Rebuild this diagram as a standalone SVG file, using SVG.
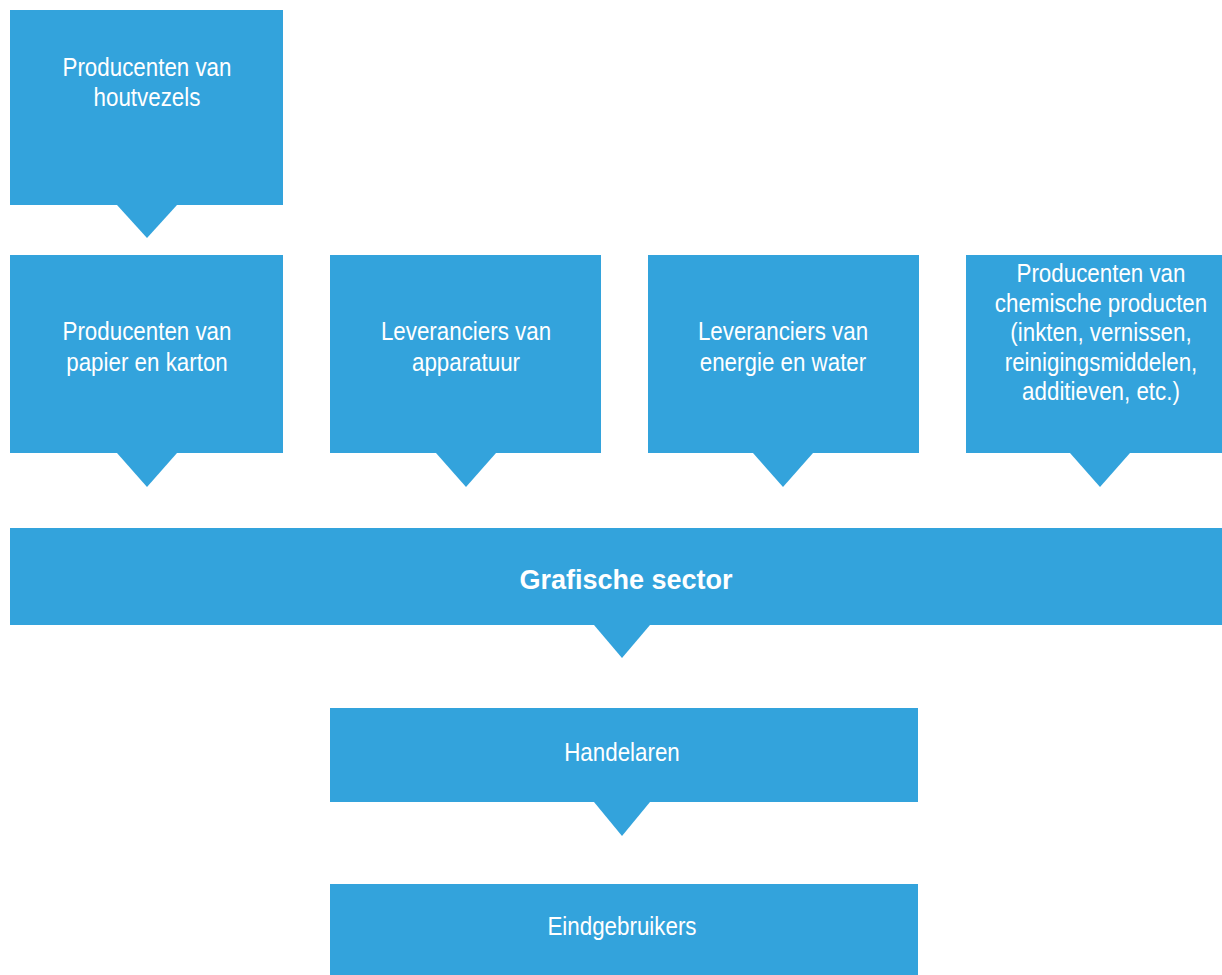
<svg xmlns="http://www.w3.org/2000/svg" width="1222" height="975" viewBox="0 0 1222 975">
<style>
.box{fill:#33a3dc}
.tri{fill:#33a3dc}
text{font-family:"Liberation Sans",Arial,sans-serif;font-size:26px;fill:#ffffff;text-anchor:middle}
.b{font-weight:bold;font-size:27px}
</style>
<rect width="1222" height="975" fill="#ffffff"/>
<g id="connectors">
<polygon class="tri" points="117,205 177,205 147,238"/>
<polygon class="tri" points="117,453 177,453 147,487"/>
<polygon class="tri" points="436,453 496,453 466,487"/>
<polygon class="tri" points="753,453 813,453 783,487"/>
<polygon class="tri" points="1070,453 1130,453 1100,487"/>
<polygon class="tri" points="594,625 650,625 622,658"/>
<polygon class="tri" points="594,802 650,802 622,836"/>
</g>
<g id="houtvezels">
<rect class="box" x="10" y="10" width="273" height="195"/>
<g transform="translate(147,0) scale(0.86,1)">
<text x="0" y="76">Producenten van</text>
<text x="0" y="106">houtvezels</text>
</g>
</g>
<g id="papier">
<rect class="box" x="10" y="255" width="273" height="198"/>
<g transform="translate(147,0) scale(0.86,1)">
<text x="0" y="340">Producenten van</text>
<text x="0" y="371">papier en karton</text>
</g>
</g>
<g id="apparatuur">
<rect class="box" x="330" y="255" width="271" height="198"/>
<g transform="translate(466,0) scale(0.86,1)">
<text x="0" y="340">Leveranciers van</text>
<text x="0" y="371">apparatuur</text>
</g>
</g>
<g id="energie">
<rect class="box" x="648" y="255" width="271" height="198"/>
<g transform="translate(783,0) scale(0.86,1)">
<text x="0" y="340">Leveranciers van</text>
<text x="0" y="371">energie en water</text>
</g>
</g>
<g id="chemisch">
<rect class="box" x="966" y="255" width="273" height="198"/>
<g transform="translate(1101,0) scale(0.86,1)">
<text x="0" y="282">Producenten van</text>
<text x="0" y="312">chemische producten</text>
<text x="0" y="341">(inkten, vernissen,</text>
<text x="0" y="371">reinigingsmiddelen,</text>
<text x="0" y="400">additieven, etc.)</text>
</g>
</g>
<g id="grafische">
<rect class="box" x="10" y="528" width="1212" height="97"/>
<text class="b" x="626" y="589">Grafische sector</text>
</g>
<g id="handelaren">
<rect class="box" x="330" y="708" width="588" height="94"/>
<g transform="translate(622,0) scale(0.86,1)">
<text x="0" y="761">Handelaren</text>
</g>
</g>
<g id="eindgebruikers">
<rect class="box" x="330" y="884" width="588" height="91"/>
<g transform="translate(622,0) scale(0.86,1)">
<text x="0" y="935">Eindgebruikers</text>
</g>
</g>
</svg>
